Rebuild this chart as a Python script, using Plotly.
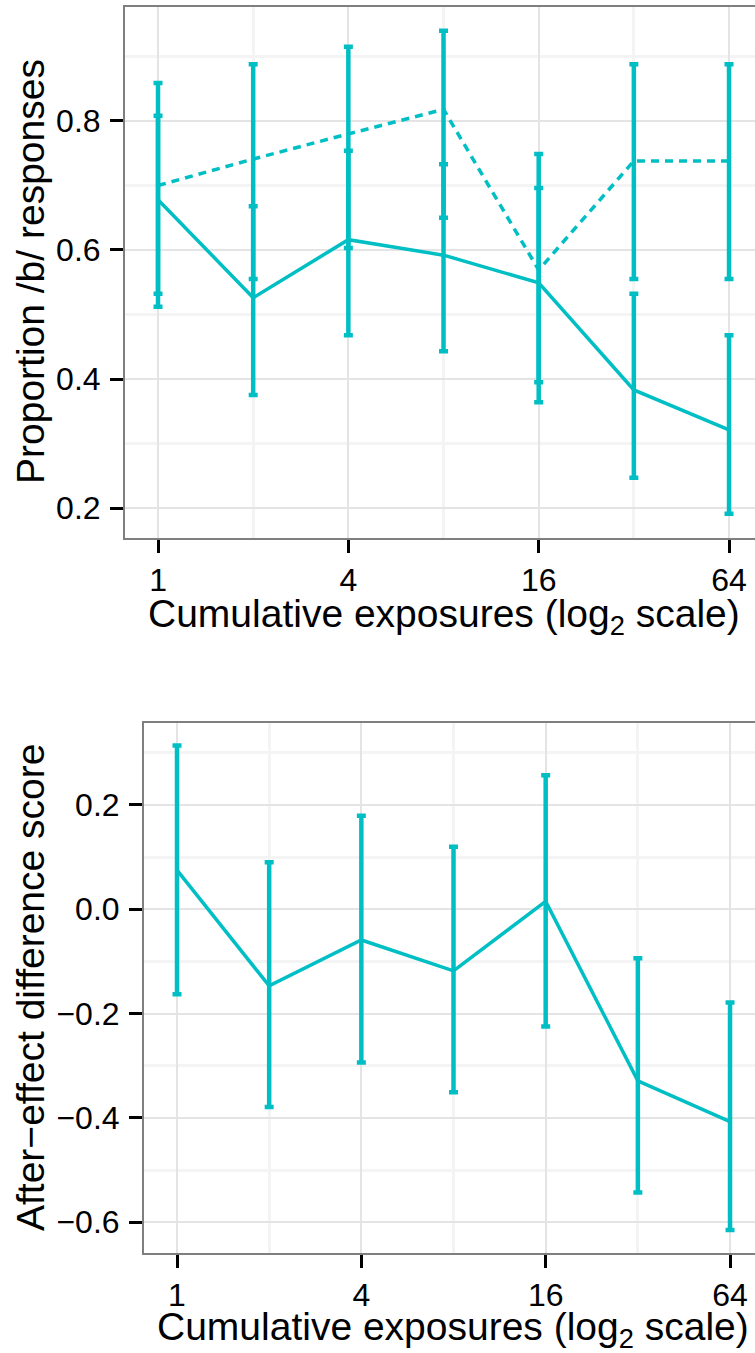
import math
import plotly.graph_objects as go

# ---------------- data ----------------
exposures = [1, 2, 4, 8, 16, 32, 64]

solid_mean = [0.678, 0.526, 0.616, 0.592, 0.549, 0.383, 0.321]
solid_lower = [0.512, 0.375, 0.468, 0.443, 0.364, 0.247, 0.191]
solid_upper = [0.808, 0.668, 0.754, 0.733, 0.696, 0.532, 0.468]

dashed_mean = [0.700, 0.741, 0.780, 0.818, 0.569, 0.738, 0.738]
dashed_lower = [0.532, 0.555, 0.603, 0.650, 0.395, 0.555, 0.555]
dashed_upper = [0.859, 0.888, 0.915, 0.940, 0.749, 0.888, 0.888]

diff_mean = [0.075, -0.147, -0.059, -0.118, 0.015, -0.329, -0.407]
diff_lower = [-0.163, -0.379, -0.294, -0.351, -0.225, -0.543, -0.615]
diff_upper = [0.314, 0.090, 0.179, 0.120, 0.257, -0.094, -0.179]

x_tickvals = [1, 4, 16, 64]
x_ticktext = ["1", "4", "16", "64"]
x_minor = [2, 8, 32]
top_yticks = [0.2, 0.4, 0.6, 0.8]
top_yminor = [0.3, 0.5, 0.7, 0.9]
bot_yticks = [-0.6, -0.4, -0.2, 0.0, 0.2]
bot_ytext = ["\u22120.6", "\u22120.4", "\u22120.2", "0.0", "0.2"]
bot_yminor = [-0.5, -0.3, -0.1, 0.1, 0.3]

x_title = "Cumulative exposures (log<sub>2</sub> scale)"
top_ytitle = "Proportion /b/ responses"
bot_ytitle = "After\u2212effect difference score"

# ---------------- style ----------------
W, H = 755, 1353
TEAL = "#00BFC4"
FONT = "Liberation Sans, Arial, sans-serif"
TICK_SIZE = 32
TITLE_SIZE = 39


def px_x(p):
    return p / W


def px_y(p):
    return 1 - p / H


def err(mean, lo, hi):
    return dict(type="data", symmetric=False,
                array=[h - m for h, m in zip(hi, mean)],
                arrayminus=[m - l for m, l in zip(mean, lo)],
                color=TEAL, thickness=4.5, width=4.5)


fig = go.Figure()

fig.add_trace(go.Scatter(x=exposures, y=dashed_mean, mode="lines",
                         line=dict(color=TEAL, width=3.5, dash="8px,6px"),
                         error_y=err(dashed_mean, dashed_lower, dashed_upper),
                         xaxis="x", yaxis="y", showlegend=False))
fig.add_trace(go.Scatter(x=exposures, y=solid_mean, mode="lines",
                         line=dict(color=TEAL, width=3.5),
                         error_y=err(solid_mean, solid_lower, solid_upper),
                         xaxis="x", yaxis="y", showlegend=False))
fig.add_trace(go.Scatter(x=exposures, y=diff_mean, mode="lines",
                         line=dict(color=TEAL, width=3.5),
                         error_y=err(diff_mean, diff_lower, diff_upper),
                         xaxis="x2", yaxis="y2", showlegend=False))

GRID = "#E4E4E4"
MINOR = "#F4F4F4"
BORDER = "#7F7F7F"


def xaxis(domain, lo, hi, anchor):
    return dict(type="log", domain=domain,
                range=[lo * math.log10(2), hi * math.log10(2)],
                tickvals=x_tickvals, ticktext=x_ticktext,
                ticks="outside", ticklen=13, tickwidth=3, tickcolor="black",
                tickfont=dict(family=FONT, size=TICK_SIZE, color="black"),
                ticklabelstandoff=0,
                showgrid=True, gridcolor=GRID, gridwidth=1.5,
                minor=dict(tickvals=x_minor, showgrid=True, gridcolor=MINOR,
                           gridwidth=3, ticks=""),
                showline=True, linecolor=BORDER, linewidth=2, mirror=True,
                zeroline=False, anchor=anchor, fixedrange=True)


def yaxis(domain, lo, hi, tickvals, ticktext, minor, anchor):
    return dict(domain=domain, range=[lo, hi],
                tickvals=tickvals, ticktext=ticktext,
                ticks="outside", ticklen=13, tickwidth=3, tickcolor="black",
                tickfont=dict(family=FONT, size=TICK_SIZE, color="black"),
                ticklabelstandoff=3,
                showgrid=True, gridcolor=GRID, gridwidth=1.5,
                minor=dict(tickvals=minor, showgrid=True, gridcolor=MINOR,
                           gridwidth=3, ticks=""),
                showline=True, linecolor=BORDER, linewidth=2, mirror=False,
                zeroline=False, anchor=anchor, fixedrange=True)


fig.update_layout(
    width=W, height=H,
    margin=dict(l=0, r=0, t=0, b=0),
    paper_bgcolor="white", plot_bgcolor="white",
    font=dict(family=FONT, color="black"),
    xaxis=xaxis([px_x(125), 1], -0.347, 6.273, "y"),
    yaxis=yaxis([px_y(538), px_y(7)], 0.1535, 0.9767,
                top_yticks, [f"{v:.1f}" for v in top_yticks], top_yminor, "x"),
    xaxis2=xaxis([px_x(144), 1], -0.358, 6.271, "y2"),
    yaxis2=yaxis([px_y(1253), px_y(723)], -0.659, 0.357,
                 bot_yticks, bot_ytext, bot_yminor, "x2"),
)

ann = dict(xref="paper", yref="paper", showarrow=False,
           font=dict(family=FONT, size=TITLE_SIZE, color="black"))
fig.add_annotation(text=x_title, x=px_x(443.5), y=px_y(616),
                   xanchor="center", yanchor="middle", **ann)
fig.add_annotation(text=x_title, x=px_x(453), y=px_y(1329),
                   xanchor="center", yanchor="middle", **ann)
fig.add_annotation(text=top_ytitle, x=px_x(30), y=px_y(272), textangle=-90,
                   xanchor="center", yanchor="middle", **ann)
fig.add_annotation(text=bot_ytitle, x=px_x(30), y=px_y(988), textangle=-90,
                   xanchor="center", yanchor="middle", **ann)

fig.write_html("out.html")
